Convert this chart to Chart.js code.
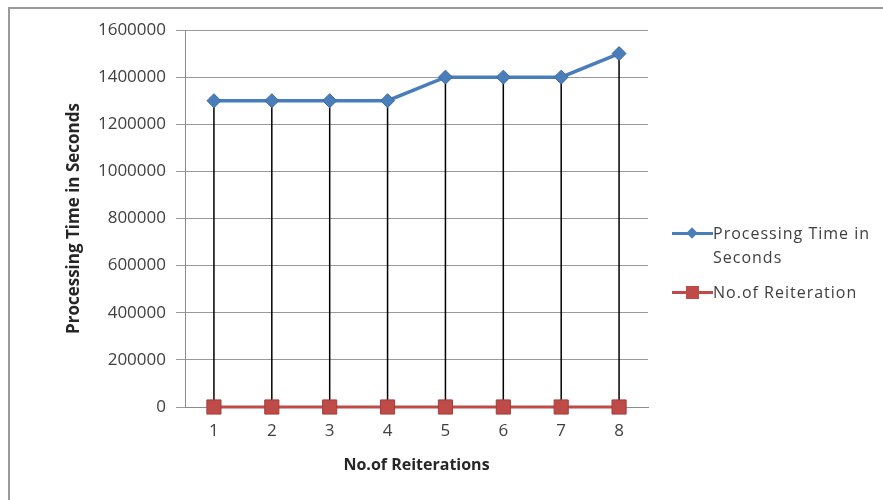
<!DOCTYPE html>
<html>
<head>
<meta charset="utf-8">
<script src="https://cdn.jsdelivr.net/npm/chart.js@4/dist/chart.umd.min.js"></script>
<style>
  html, body { margin: 0; padding: 0; background: #fff; }
  #wrap { position: relative; width: 883px; height: 500px; }
  #legend { position: absolute; left: 672px; top: 221px; font-family: "Open Sans", "DejaVu Sans", sans-serif; font-size: 16px; letter-spacing: 1px; color: #404040; }
  .item { position: relative; padding-left: 41px; line-height: 24px; white-space: nowrap; }
  .item .ln { position: absolute; left: 0; top: 11px; width: 41px; height: 3px; }
  .item .mk { position: absolute; }
</style>
</head>
<body>
<div id="wrap">
  <canvas id="c" width="883" height="500"></canvas>
  <div id="legend"></div>
</div>
<script>
// Iterations on the category axis
const iterations = ['1', '2', '3', '4', '5', '6', '7', '8'];
// Measured processing time per iteration
const processingTime = [1300000, 1300000, 1300000, 1300000, 1400000, 1400000, 1400000, 1500000];
// Iteration counter series
const reiterationCount = [1, 2, 3, 4, 5, 6, 7, 8];
// Value axis range
const yMin = 0, yMax = 1600000, yStep = 200000;

const seriesNames = ['Processing Time in Seconds', 'No.of Reiteration'];
const blue = '#4A7EBB', red = '#BE4B48';

// Frame lines and drop lines from each processing-time point to the category axis
const dropLines = {
  id: 'dropLines',
  beforeDatasetsDraw(chart) {
    const ctx = chart.ctx, meta = chart.getDatasetMeta(0), y = chart.scales.y;
    ctx.save();
    ctx.strokeStyle = '#000';
    ctx.lineWidth = 1.5;
    meta.data.forEach(pt => {
      ctx.beginPath();
      ctx.moveTo(pt.x, pt.y);
      ctx.lineTo(pt.x, y.getPixelForValue(0));
      ctx.stroke();
    });
    ctx.restore();
  },
  beforeDraw(chart) {
    const ctx = chart.ctx;
    ctx.save();
    ctx.strokeStyle = '#9a9a9a';
    ctx.lineWidth = 2;
    ctx.beginPath();
    ctx.moveTo(9, 500);
    ctx.lineTo(9, 8);
    ctx.lineTo(883, 8);
    ctx.stroke();
    ctx.restore();
  }
};

const tickFont = { family: '"Open Sans", "DejaVu Sans", sans-serif', size: 17 };
const xTitleFont = { family: '"Open Sans", "DejaVu Sans", sans-serif', size: 16, weight: 'bold' };
const yTitleFont = { family: '"Open Sans", "DejaVu Sans", sans-serif', size: 17, weight: 'bold' };

new Chart(document.getElementById('c'), {
  type: 'line',
  data: {
    labels: iterations,
    datasets: [
      {
        label: seriesNames[0], data: processingTime,
        borderColor: blue, backgroundColor: blue, borderWidth: 3.5,
        pointStyle: 'rectRot', pointRadius: 7, pointBorderWidth: 1, pointBorderColor: '#3D6A9E',
        tension: 0, clip: false
      },
      {
        label: seriesNames[1], data: reiterationCount,
        borderColor: red, backgroundColor: red, borderWidth: 3,
        pointStyle: 'rect', pointRadius: 10, pointBorderWidth: 1, pointBorderColor: '#A33E3B',
        tension: 0, clip: false
      }
    ]
  },
  options: {
    responsive: false,
    animation: false,
    layout: { padding: { left: 0, right: 235, top: 30, bottom: 0 } },
    plugins: { legend: { display: false }, tooltip: { enabled: false } },
    scales: {
      x: {
        offset: true,
        grid: { display: false, drawTicks: false },
        border: { display: true, color: '#8c8c8c', width: 1 },
        ticks: { font: tickFont, color: '#404040', padding: 14 },
        title: { display: true, text: 'No.of Reiterations', font: xTitleFont, color: '#262626', padding: { top: 0, bottom: 25 } },
        afterFit(s) { s.height = 93; }
      },
      y: {
        min: yMin, max: yMax,
        ticks: { stepSize: yStep, font: tickFont, color: '#404040', padding: 10,
          callback: v => String(v) },
        grid: { color: '#999999', lineWidth: 1, tickLength: 9, drawTicks: true },
        border: { display: true, color: '#8c8c8c', width: 1 },
        title: { display: true, text: 'Processing Time in Seconds', font: yTitleFont, color: '#262626', padding: { top: 64, bottom: 0 } },
        afterFit(s) { s.width = 185; }
      }
    }
  },
  plugins: [dropLines]
});

// Legend to the right of the plot
const legend = document.getElementById('legend');
const items = [
  { text: 'Processing Time in<br>Seconds', color: blue, mk: 'transform:rotate(45deg);width:8px;height:8px;left:16px;top:8px;' },
  { text: 'No.of Reiteration', color: red, mk: 'width:13px;height:13px;left:14px;top:6px;' }
];
items.forEach((it, i) => {
  const d = document.createElement('div');
  d.className = 'item';
  if (i === 1) d.style.marginTop = '11px';
  d.innerHTML = '<span class="ln" style="background:' + it.color + '"></span>' +
    '<span class="mk" style="background:' + it.color + ';' + it.mk + '"></span>' + it.text;
  legend.appendChild(d);
});
</script>
</body>
</html>
